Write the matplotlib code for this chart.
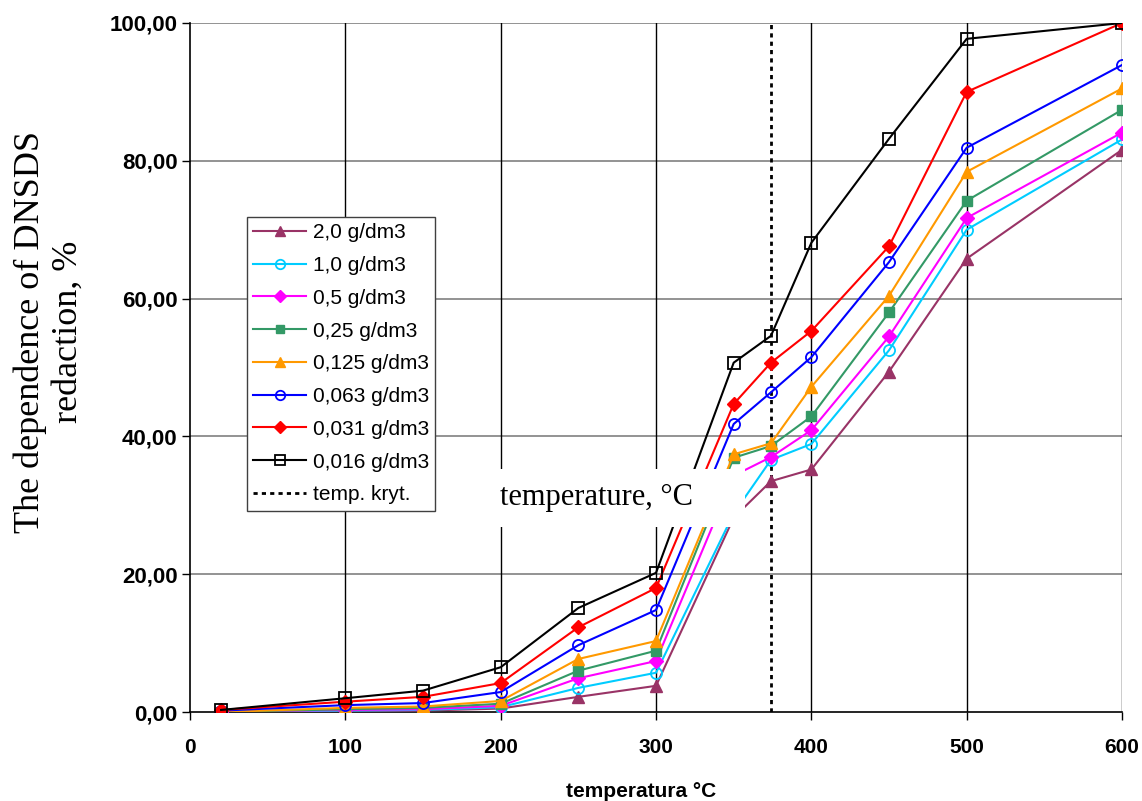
import matplotlib
matplotlib.use('Agg')
import matplotlib.pyplot as plt
from matplotlib.patches import Rectangle

# temperatures (deg C) of the measurement points
temps = [20, 100, 150, 200, 250, 300, 350, 374, 400, 450, 500, 600]

# DNSDS reduction, % for each concentration
red_2_0 = [0.0, 0.1, 0.2, 0.5, 2.2, 3.8, 28.2, 33.5, 35.2, 49.4, 65.8, 81.6]
red_1_0 = [0.0, 0.2, 0.3, 0.7, 3.5, 5.7, 28.8, 36.6, 38.9, 52.5, 70.0, 83.1]
red_0_5 = [0.0, 0.3, 0.4, 0.9, 4.9, 7.4, 34.3, 37.0, 40.9, 54.5, 71.7, 84.1]
red_0_25 = [0.0, 0.4, 0.6, 1.2, 6.0, 8.9, 36.9, 38.6, 42.9, 58.0, 74.2, 87.4]
red_0_125 = [0.0, 0.6, 0.8, 1.6, 7.7, 10.3, 37.4, 39.0, 47.2, 60.4, 78.4, 90.5]
red_0_063 = [0.2, 1.0, 1.3, 2.9, 9.7, 14.8, 41.8, 46.4, 51.5, 65.3, 81.9, 93.9]
red_0_031 = [0.3, 1.5, 2.2, 4.2, 12.3, 18.0, 44.7, 50.7, 55.3, 67.6, 90.0, 100.0]
red_0_016 = [0.3, 2.0, 3.1, 6.5, 15.1, 20.2, 50.7, 54.6, 68.1, 83.2, 97.7, 100.0]

labels = ["2,0 g/dm3", "1,0 g/dm3", "0,5 g/dm3", "0,25 g/dm3",
          "0,125 g/dm3", "0,063 g/dm3", "0,031 g/dm3", "0,016 g/dm3"]
crit_temp = 374

x_ticks = [0, 100, 200, 300, 400, 500, 600]
y_ticks = [0, 20, 40, 60, 80, 100]

series = [red_2_0, red_1_0, red_0_5, red_0_25, red_0_125, red_0_063, red_0_031, red_0_016]

# (color, marker, filled, markersize)
styles = [
    ('#993366', '^', True, 9),
    ('#00CCFF', 'o', False, 8),
    ('#FF00FF', 'D', True, 7),
    ('#339966', 's', True, 7.5),
    ('#FF9900', '^', True, 9),
    ('#0000FF', 'o', False, 8),
    ('#FF0000', 'D', True, 7),
    ('#000000', 's', False, 8),
]

sans = 'Liberation Sans'
serif = 'Liberation Serif'

fig = plt.figure(figsize=(11.42, 8.01), dpi=100, facecolor='white')
ax = fig.add_axes([0.1664, 0.1111, 0.8161, 0.8602])

# grid: gray horizontal, black vertical
for yv in y_ticks[1:]:
    ax.axhline(yv, color='#808080', linewidth=1.2, zorder=1)
for xv in x_ticks[1:]:
    ax.axvline(xv, color='black', linewidth=1.0, zorder=1)

for vals, lab, (col, mk, filled, ms) in zip(series, labels, styles):
    ax.plot(temps, vals, color=col, linewidth=1.5, marker=mk, markersize=ms,
            markerfacecolor=col if filled else 'none', markeredgecolor=col,
            markeredgewidth=1.3 if not filled else 1.0, label=lab, zorder=3)

ax.plot([crit_temp, crit_temp], [0, 100], color='black', linewidth=2,
        linestyle=(0, (1.5, 1.5)), label='temp. kryt.', zorder=2)

# white box with the overlaid text
ax.add_patch(Rectangle((188.0, 26.9), 169.5, 8.4, facecolor='white',
                       edgecolor='none', zorder=4))
ax.text(261.5, 31.1, "temperature, \u00b0C", fontsize=22, family=serif,
        ha='center', va='center', zorder=5)

ax.set_xlim(0, 600)
ax.set_ylim(0, 100)
ax.set_xticks(x_ticks)
ax.set_yticks(y_ticks)
ax.set_xticklabels([str(v) for v in x_ticks], fontsize=15, fontweight='bold', family=sans)
ax.set_yticklabels([f"{v:.2f}".replace('.', ',') for v in y_ticks],
                   fontsize=16, fontweight='bold', family=sans)
ax.tick_params(axis='x', direction='out', length=6, width=1, pad=13)
ax.tick_params(axis='y', direction='out', length=6, width=1, pad=3)

for side in ['top', 'right']:
    ax.spines[side].set_visible(False)
for side in ['left', 'bottom']:
    ax.spines[side].set_linewidth(1.2)
    ax.spines[side].set_zorder(2)

ax.set_xlabel("temperatura \u00b0C", fontsize=15, fontweight='bold', family=sans)
ax.xaxis.set_label_coords(0.4845, -0.101)

fig.text(0.043, 0.586, "The dependence of DNSDS\nredaction, %", rotation=90,
         fontsize=26, family=serif, ha='center', va='center',
         multialignment='center', linespacing=1.2)

leg = ax.legend(loc='upper left', bbox_to_anchor=(0.0612, 0.7184), borderaxespad=0,
                prop={'family': sans, 'size': 15}, frameon=True, fancybox=False,
                framealpha=1, edgecolor='#404040', labelspacing=0.66,
                handlelength=2.55, handletextpad=0.3, borderpad=0.3,
                markerscale=0.85)
leg.get_frame().set_linewidth(1.0)
leg.set_zorder(6)

plt.savefig('out.png', dpi=100, facecolor='white')
plt.close()
